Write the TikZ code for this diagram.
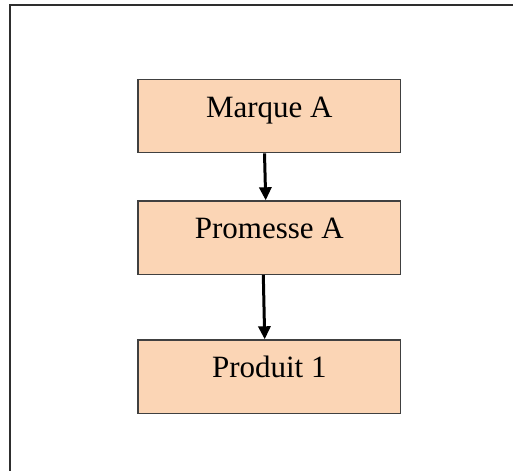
\documentclass[tikz,border=0pt]{standalone}
\usepackage{fontspec}
\setmainfont{Liberation Serif}
\usetikzlibrary{arrows.meta}
\definecolor{boxfill}{HTML}{FBD5B5}
\definecolor{boxline}{HTML}{404040}
\definecolor{frameline}{HTML}{2E2E2E}
\begin{document}
\begin{tikzpicture}[x=1pt, y=-1pt,
  stepbox/.style={draw=boxline, line width=1.2pt, fill=boxfill,
    rectangle, inner sep=0pt, minimum width=262.7pt, minimum height=73.4pt,
    font=\fontsize{31}{36}\selectfont, text height=21pt, text depth=19pt},
  flow/.style={draw=black, line width=3pt,
    -{Triangle[width=12pt, length=13pt]}}]
  \useasboundingbox (0,0) rectangle (513,471);
  % open frame: top and left edges only
  \draw[frameline, line width=2pt] (513,5.3) -- (10.3,5.3) -- (10.3,471);
  % the three boxes
  \node[stepbox] (marque)   at (269.3,116.0) {Marque A};
  \node[stepbox] (promesse) at (269.3,237.6) {Promesse A};
  \node[stepbox] (produit)  at (269.3,376.6) {Produit 1};
  % connectors
  \draw[flow] ([xshift=-4.8pt]marque.south) -- ([xshift=-3.6pt]promesse.north);
  \draw[flow] ([xshift=-6pt]promesse.south) -- ([xshift=-4.6pt]produit.north);
\end{tikzpicture}
\end{document}
